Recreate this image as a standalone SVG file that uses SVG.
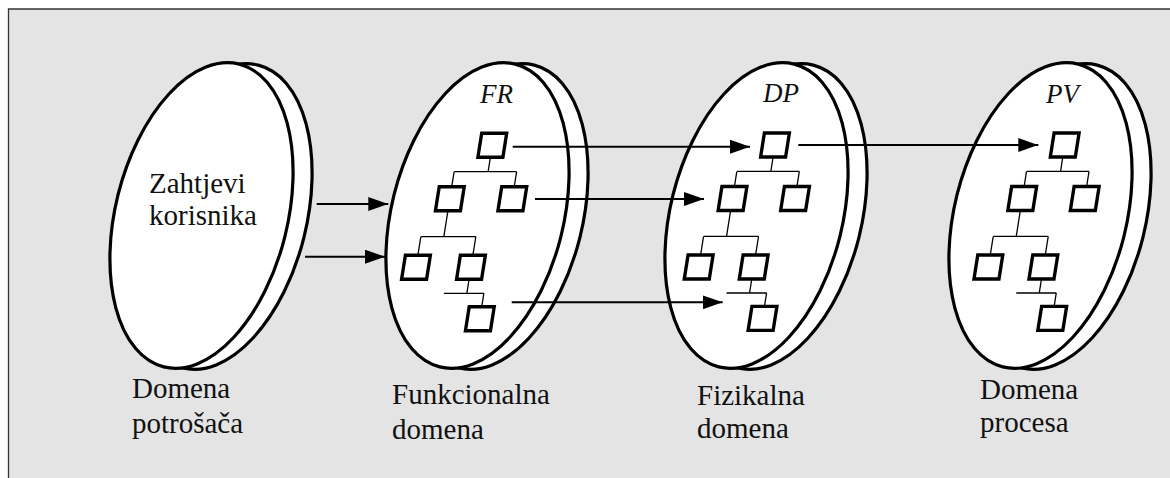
<svg xmlns="http://www.w3.org/2000/svg" width="1170" height="478" viewBox="0 0 1170 478">
<style>
.bg{fill:#e4e4e4}
.disk{fill:#fff;stroke:#000;stroke-width:3.2}
.box{fill:#fff;stroke:#000;stroke-width:3.4}
.tl{fill:none;stroke:#000;stroke-width:1.3}
.arr{fill:none;stroke:#000;stroke-width:2}
.lbl{font-size:29px;fill:#111}
.ital{font-size:27px;font-style:italic;fill:#111}
</style>
<defs>
<marker id="ah" viewBox="0 0 20 14" refX="20" refY="7" markerWidth="20" markerHeight="14" markerUnits="userSpaceOnUse" orient="auto">
<path d="M0,0 L20,7 L0,14 z" fill="#000"/>
</marker>
<g id="diskshape">
<ellipse class="disk" cx="0" cy="0" rx="86" ry="156" transform="translate(19,1) rotate(14)"/>
<ellipse class="disk" cx="0" cy="0" rx="86" ry="156" transform="rotate(14)"/>
</g>
<g id="tree">
<path class="tl" d="M0,12 V26.4 M-34,26.4 H28.5 M-34,26.4 V41.5 M28.5,26.4 V41.5 M-34,65.5 V91.4 M-57,91.4 H-2 M-57,91.4 V110 M-2,91.4 V110 M-2,134 V148 M-25,148 H15 M15,148 V161.4"/>
<rect class="box" x="-12.5" y="-12" width="25" height="24"/>
<rect class="box" x="-46.5" y="41.5" width="25" height="24"/>
<rect class="box" x="16" y="41.5" width="25" height="24"/>
<rect class="box" x="-69.5" y="110" width="25" height="24"/>
<rect class="box" x="-14.5" y="110" width="25" height="24"/>
<rect class="box" x="2.5" y="161.4" width="25" height="24"/>
</g>
</defs>
<rect x="0" y="0" width="1170" height="478" fill="#fff"/>
<rect class="bg" x="8.5" y="9" width="1170" height="478"/>
<path d="M8.5,478 V9 H1170" fill="none" stroke="#333" stroke-width="1.3"/>

<g id="node-consumer">
<use href="#diskshape" transform="translate(201.5,215.5)"/>
<text class="lbl" font-family="Liberation Serif, serif" x="149" y="193">Zahtjevi</text>
<text class="lbl" font-family="Liberation Serif, serif" x="149" y="225">korisnika</text>
<text class="lbl" font-family="Liberation Serif, serif" x="132" y="398">Domena</text>
<text class="lbl" font-family="Liberation Serif, serif" x="132" y="433">potrošača</text>
</g>

<g id="node-fr">
<use href="#diskshape" transform="translate(477.5,215.5)"/>
<text class="ital" font-family="Liberation Serif, serif" x="480" y="103">FR</text>
<use href="#tree" transform="translate(492.3,145.3) skewX(-9)"/>
<text class="lbl" font-family="Liberation Serif, serif" x="392" y="404">Funkcionalna</text>
<text class="lbl" font-family="Liberation Serif, serif" x="392" y="439">domena</text>
</g>

<g id="node-dp">
<use href="#diskshape" transform="translate(756.5,215.5)"/>
<text class="ital" font-family="Liberation Serif, serif" x="763" y="102">DP</text>
<use href="#tree" transform="translate(775,145) skewX(-9)"/>
<text class="lbl" font-family="Liberation Serif, serif" x="697" y="405">Fizikalna</text>
<text class="lbl" font-family="Liberation Serif, serif" x="697" y="438">domena</text>
</g>

<g id="node-pv">
<use href="#diskshape" transform="translate(1040.5,215.5)"/>
<text class="ital" font-family="Liberation Serif, serif" x="1046" y="103">PV</text>
<use href="#tree" transform="translate(1064.7,145) skewX(-9)"/>
<text class="lbl" font-family="Liberation Serif, serif" x="980" y="399">Domena</text>
<text class="lbl" font-family="Liberation Serif, serif" x="980" y="432">procesa</text>
</g>

<g id="connectors">
<line class="arr" x1="316.7" y1="204" x2="388.3" y2="204" marker-end="url(#ah)"/>
<line class="arr" x1="305" y1="256.7" x2="385" y2="256.7" marker-end="url(#ah)"/>
<line class="arr" x1="512.7" y1="146.7" x2="750" y2="146.7" marker-end="url(#ah)"/>
<line class="arr" x1="535" y1="199" x2="704" y2="199" marker-end="url(#ah)"/>
<line class="arr" x1="511.7" y1="302.3" x2="722.7" y2="302.3" marker-end="url(#ah)"/>
<line class="arr" x1="798.3" y1="145" x2="1038.3" y2="145" marker-end="url(#ah)"/>
</g>
</svg>
